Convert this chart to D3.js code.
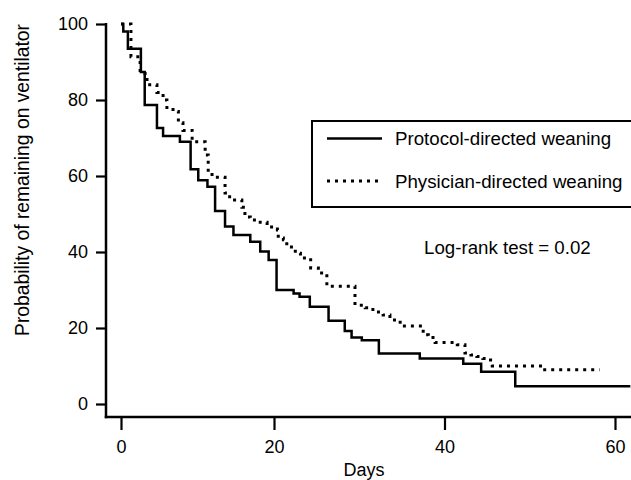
<!DOCTYPE html>
<html>
<head>
<meta charset="utf-8">
<script src="https://cdn.jsdelivr.net/npm/d3@7"></script>
<style>
  body { margin: 0; background: #fff; }
  svg { display: block; font-family: "Liberation Sans", Arial, Helvetica, sans-serif; }
</style>
</head>
<body>
<svg id="chart" width="631" height="480"></svg>
<script>
// ---- data ----
const protocolDays = [0, 0.3, 0.9, 2.6, 3.1, 4.7, 5.5, 7.7, 9.1, 10.1, 11.3, 12.3, 13.6, 14.7, 16.9, 18.2, 19.3, 20.3, 22.3, 23.0, 24.2, 26.4, 28.3, 29.1, 30.3, 32.3, 37.1, 42.2, 44.3, 48.3, 61.8];
const protocolSurv = [100, 98, 93.5, 87.4, 78.7, 72.6, 70.5, 69, 61.8, 58.9, 57.2, 50.8, 46.7, 44.5, 42.7, 40.1, 37.9, 30, 29.1, 28.2, 25.6, 21.9, 19.2, 17.5, 16.8, 13.3, 12, 10.6, 8.5, 4.7, 4.7];

const physicianDays = [0, 1.3, 2.5, 3.4, 4.7, 5.5, 6.0, 6.8, 7.5, 8.1, 9.3, 11.0, 11.4, 11.9, 13.6, 14.2, 15.8, 16.2, 16.9, 18.2, 19.1, 20.4, 20.5, 21.1, 21.5, 22.5, 23.1, 24.3, 25.2, 26.2, 29.5, 30.7, 31.6, 32.8, 33.6, 34.8, 37.5, 38.1, 38.9, 41.5, 42.4, 43.1, 43.8, 44.5, 45.4, 45.6, 51.5, 58.2];
const physicianSurv = [100, 91.4, 87, 84, 82, 80, 78, 77, 74, 72, 69, 65.5, 61, 59.7, 55.5, 53.7, 51.8, 49.2, 48.4, 47.8, 46.6, 45.8, 43.7, 43.2, 41.3, 39.7, 38.4, 35.8, 34.5, 31, 26, 25.3, 24.2, 23.4, 22.1, 20.5, 18.2, 17.5, 16.2, 15.6, 13.4, 12.9, 12.5, 12, 11.6, 10, 9, 9];

const xTicks = [0, 20, 40, 60];
const yTicks = [0, 20, 40, 60, 80, 100];
const seriesNames = ["Protocol-directed weaning", "Physician-directed weaning"];
const statText = "Log-rank test = 0.02";
const xTitle = "Days";
const yTitle = "Probability of remaining on ventilator";

// ---- drawing ----
const svg = d3.select("#chart");
const x = d3.scaleLinear().domain([0, 20, 60]).range([121, 274, 615]);
const y = d3.scaleLinear().domain([0, 100]).range([404, 24]);

const axisX0 = 106, axisY0 = 417;
const FS = 18;
const FS_TEXT = 18.7;

// axis lines (L box)
svg.append("line").attr("x1", axisX0).attr("x2", axisX0).attr("y1", y(100) - 1).attr("y2", axisY0 + 1.25)
  .attr("stroke", "#000").attr("stroke-width", 2.5);
svg.append("line").attr("x1", axisX0 - 1.25).attr("x2", 640).attr("y1", axisY0).attr("y2", axisY0)
  .attr("stroke", "#000").attr("stroke-width", 2.5);

// y axis ticks
const yAxis = d3.axisLeft(y).tickValues(yTicks).tickSize(10).tickPadding(8).tickFormat(d3.format("d"));
const gy = svg.append("g").attr("transform", `translate(${axisX0},0)`).call(yAxis);
gy.select(".domain").remove();
gy.selectAll(".tick line").attr("stroke-width", 2.2);
gy.selectAll(".tick text").attr("font-size", FS).attr("fill", "#000").attr("font-family", "Liberation Sans, Arial, sans-serif");

// x axis ticks
const xAxis = d3.axisBottom(x).tickValues(xTicks).tickSize(13).tickPadding(10).tickFormat(d3.format("d"));
const gx = svg.append("g").attr("transform", `translate(0,${axisY0})`).call(xAxis);
gx.select(".domain").remove();
gx.selectAll(".tick line").attr("stroke-width", 2.2);
gx.selectAll(".tick text").attr("font-size", FS).attr("fill", "#000").attr("font-family", "Liberation Sans, Arial, sans-serif");

// axis titles
svg.append("text").attr("x", 364).attr("y", 476).attr("text-anchor", "middle")
  .attr("font-size", FS).text(xTitle);
svg.append("text").attr("transform", "translate(29,180) rotate(-90)").attr("text-anchor", "middle")
  .attr("font-size", 19.3).text(yTitle);

// curves
const line = d3.line().x(d => x(d[0])).y(d => y(d[1])).curve(d3.curveStepAfter);
const protocol = protocolDays.map((d, i) => [d, protocolSurv[i]]);
const physician = physicianDays.map((d, i) => [d, physicianSurv[i]]);

svg.append("path").datum(physician).attr("d", line).attr("fill", "none")
  .attr("stroke", "#000").attr("stroke-width", 3).attr("stroke-dasharray", "3,5");
svg.append("path").datum(protocol).attr("d", line).attr("fill", "none")
  .attr("stroke", "#000").attr("stroke-width", 2.5);

// legend
svg.append("rect").attr("x", 312).attr("y", 121).attr("width", 340).attr("height", 86)
  .attr("fill", "none").attr("stroke", "#000").attr("stroke-width", 2);
svg.append("line").attr("x1", 327).attr("x2", 382).attr("y1", 138.5).attr("y2", 138.5)
  .attr("stroke", "#000").attr("stroke-width", 2.5);
svg.append("line").attr("x1", 327).attr("x2", 382).attr("y1", 181).attr("y2", 181)
  .attr("stroke", "#000").attr("stroke-width", 3).attr("stroke-dasharray", "3,5");
svg.append("text").attr("x", 395).attr("y", 145).attr("font-size", FS_TEXT).text(seriesNames[0]);
svg.append("text").attr("x", 395).attr("y", 187.5).attr("font-size", FS_TEXT).text(seriesNames[1]);

// stat text
svg.append("text").attr("x", 424).attr("y", 254).attr("font-size", FS_TEXT).text(statText);
</script>
</body>
</html>
